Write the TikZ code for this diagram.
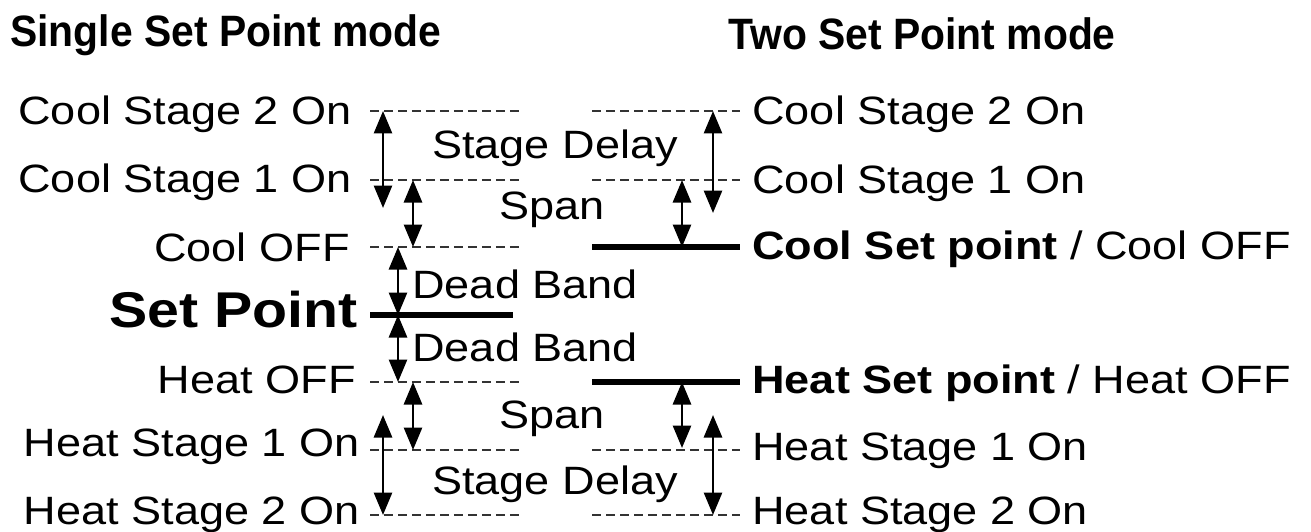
\documentclass[tikz,border=0pt]{standalone}
\usepackage{fontspec}
\setmainfont{Liberation Sans}[FakeStretch=1.14]
\newfontfamily\ttlfont{Liberation Sans}[FakeStretch=0.93]
\usetikzlibrary{arrows.meta}

\begin{document}
\begin{tikzpicture}[x=0.02cm, y=-0.02cm,
    livello/.style={draw=black!80, line width=1.2pt, dash pattern=on 0.18cm off 0.1cm},
    setpt/.style={draw=black, line width=3.2pt},
    quota/.style={<->, >={Triangle[length=0.45cm,width=0.36cm]}, line width=1.6pt},
    etich/.style={inner sep=0pt, font=\fontsize{22.5}{25}\selectfont},
    grande/.style={inner sep=0pt, font=\bfseries\fontsize{28.6}{31}\selectfont},
    titolo/.style={inner sep=0pt, font=\ttlfont\bfseries\fontsize{25}{28}\selectfont}]

    \useasboundingbox (0,0) rectangle (1311,531);

    % --- Titoli ---
    \node[titolo, anchor=base west] (tsx) at (10,46) {Single Set Point mode};
    \node[titolo, anchor=base west] (tdx) at (728,49) {Two Set Point mode};

    % --- Livelli a sinistra ---
    \foreach \nome/\y in {cs2/111, cs1/180, coff/247, hoff/382, hs1/450, hs2/515}{
        \coordinate (sx\nome a) at (370,\y);
        \coordinate (sx\nome b) at (522,\y);
        \draw[livello] (sx\nome a) -- (sx\nome b);
    }
    \coordinate (spa) at (370,315);
    \coordinate (spb) at (513,315);
    \draw[setpt] (spa) -- (spb);

    % --- Livelli a destra ---
    \foreach \nome/\y in {cs2/111, cs1/180, hs1/450, hs2/515}{
        \coordinate (dx\nome a) at (592,\y);
        \coordinate (dx\nome b) at (740,\y);
        \draw[livello] (dx\nome a) -- (dx\nome b);
    }
    \coordinate (csa) at (592,247);
    \coordinate (csb) at (740,247);
    \draw[setpt] (csa) -- (csb);
    \coordinate (hsa) at (592,382);
    \coordinate (hsb) at (740,382);
    \draw[setpt] (hsa) -- (hsb);

    % --- Quote (frecce doppie) ---
    \foreach \i/\x/\ya/\yb in {1/383/111/208, 2/413/180/247, 3/398/247/315,
                               4/398/315/382, 5/413/382/450, 6/383/415/515,
                               7/713/111/213, 8/682/180/247, 9/682/382/448,
                               10/713/415/515}{
        \coordinate (q\i a) at (\x,\ya);
        \coordinate (q\i b) at (\x,\yb);
        \draw[quota] (q\i a) -- (q\i b);
    }

    % --- Etichette a sinistra ---
    \node[etich, anchor=base east] (lcs2) at (352,124) {Cool Stage 2 On};
    \node[etich, anchor=base east] (lcs1) at (352,192) {Cool Stage 1 On};
    \node[etich, anchor=base east] (lcoff) at (350,261) {Cool OFF};
    \node[grande, anchor=base east] (lsp) at (358,327) {Set Point};
    \node[etich, anchor=base east] (lhoff) at (356,393) {Heat OFF};
    \node[etich, anchor=base east] (lhs1) at (360,456) {Heat Stage 1 On};
    \node[etich, anchor=base east] (lhs2) at (360,524) {Heat Stage 2 On};

    % --- Etichette centrali ---
    \node[etich, anchor=base] (msd1) at (555,158) {Stage Delay};
    \node[etich, anchor=base] (msp1) at (552,219) {Span};
    \node[etich, anchor=base west] (mdb1) at (412,298) {Dead Band};
    \node[etich, anchor=base west] (mdb2) at (412,361) {Dead Band};
    \node[etich, anchor=base] (msp2) at (552,428) {Span};
    \node[etich, anchor=base] (msd2) at (555,494) {Stage Delay};

    % --- Etichette a destra ---
    \node[etich, anchor=base west] (rcs2) at (752,124) {Cool Stage 2 On};
    \node[etich, anchor=base west] (rcs1) at (752,193) {Cool Stage 1 On};
    \node[etich, anchor=base west] (rcsp) at (752,259) {\textbf{Cool Set point} / Cool OFF};
    \node[etich, anchor=base west] (rhsp) at (752,393) {\textbf{Heat Set point} / Heat OFF};
    \node[etich, anchor=base west] (rhs1) at (752,460) {Heat Stage 1 On};
    \node[etich, anchor=base west] (rhs2) at (752,524) {Heat Stage 2 On};
\end{tikzpicture}
\end{document}
